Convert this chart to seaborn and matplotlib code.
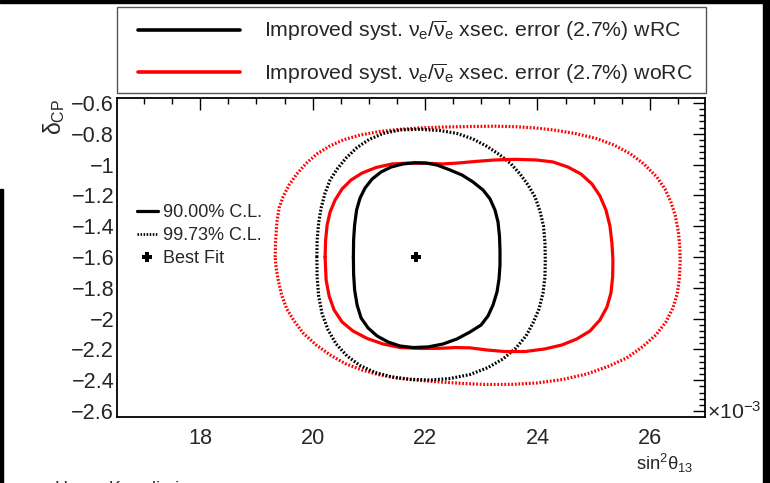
import numpy as np
import pandas as pd
import matplotlib
matplotlib.use("Agg")
import matplotlib.pyplot as plt
import seaborn as sns
from matplotlib.lines import Line2D
from matplotlib.patches import Rectangle
from matplotlib.ticker import MultipleLocator, FuncFormatter

# ---------------- data (sin^2 theta13 in units of 1e-3, delta_CP) ----------------
# 90% C.L., wRC (black solid)
wrc90_x = [20.725, 20.729, 20.747, 20.782, 20.844, 20.933, 21.058, 21.218, 21.396, 21.609,
           21.822, 22.018, 22.213, 22.444, 22.658, 22.853, 23.031, 23.156, 23.244, 23.298,
           23.324, 23.333, 23.333, 23.316, 23.280, 23.209, 23.120, 22.996, 22.800, 22.569,
           22.320, 22.053, 21.787, 21.556, 21.342, 21.147, 20.987, 20.862, 20.791, 20.747,
           20.729]
wrc90_y = [-1.600, -1.490, -1.392, -1.295, -1.217, -1.152, -1.094, -1.048, -1.016, -0.996,
           -0.988, -0.990, -1.003, -1.035, -1.068, -1.113, -1.165, -1.223, -1.295, -1.373,
           -1.464, -1.555, -1.652, -1.743, -1.827, -1.912, -1.983, -2.042, -2.087, -2.132,
           -2.165, -2.184, -2.188, -2.178, -2.152, -2.113, -2.061, -1.996, -1.912, -1.814,
           -1.710]

# 90% C.L., woRC (red solid)
worc90_x = [20.222, 20.231, 20.258, 20.311, 20.400, 20.524, 20.684, 20.880, 21.129, 21.413,
            21.733, 22.053, 22.320, 22.587, 22.889, 23.244, 23.600, 23.973, 24.276, 24.542,
            24.773, 24.969, 25.111, 25.218, 25.289, 25.324, 25.342, 25.337, 25.307, 25.236,
            25.111, 24.933, 24.702, 24.436, 24.133, 23.778, 23.422, 23.102, 22.800, 22.533,
            22.267, 21.911, 21.556, 21.253, 20.969, 20.720, 20.524, 20.382, 20.293, 20.240]
worc90_y = [-1.600, -1.490, -1.392, -1.308, -1.230, -1.158, -1.100, -1.055, -1.019, -0.996,
            -0.990, -0.992, -0.996, -0.990, -0.980, -0.970, -0.966, -0.970, -0.983, -1.016,
            -1.061, -1.126, -1.204, -1.295, -1.399, -1.509, -1.619, -1.730, -1.834, -1.925,
            -2.009, -2.081, -2.132, -2.171, -2.197, -2.214, -2.214, -2.204, -2.190, -2.188,
            -2.193, -2.194, -2.188, -2.165, -2.129, -2.081, -2.022, -1.944, -1.853, -1.749]

# 99.73% C.L., wRC (black dotted)
wrc997_x = [20.075, 20.080, 20.107, 20.151, 20.222, 20.311, 20.436, 20.596, 20.791, 21.004,
            21.253, 21.556, 21.911, 22.267, 22.569, 22.853, 23.102, 23.333, 23.529, 23.689,
            23.831, 23.956, 24.044, 24.107, 24.133, 24.139, 24.133, 24.098, 24.027, 23.920,
            23.796, 23.618, 23.387, 23.120, 22.800, 22.444, 22.089, 21.733, 21.413, 21.111,
            20.844, 20.613, 20.418, 20.276, 20.169, 20.107, 20.080]
wrc997_y = [-1.600, -1.490, -1.379, -1.282, -1.184, -1.100, -1.029, -0.957, -0.889, -0.837,
            -0.798, -0.775, -0.771, -0.779, -0.798, -0.834, -0.882, -0.938, -0.996, -1.061,
            -1.132, -1.210, -1.301, -1.399, -1.509, -1.619, -1.730, -1.834, -1.938, -2.029,
            -2.113, -2.191, -2.262, -2.318, -2.363, -2.389, -2.399, -2.394, -2.379, -2.350,
            -2.305, -2.243, -2.165, -2.074, -1.970, -1.853, -1.730]

# 99.73% C.L., woRC (red dotted)
worc997_x = [19.333, 19.342, 19.364, 19.404, 19.476, 19.582, 19.719, 19.884, 20.075, 20.293,
             20.542, 20.844, 21.200, 21.556, 21.911, 22.356, 22.800, 23.244, 23.600, 23.956,
             24.276, 24.667, 25.052, 25.360, 25.644, 25.893, 26.119, 26.267, 26.373, 26.453,
             26.507, 26.533, 26.539, 26.524, 26.489, 26.409, 26.284, 26.107, 25.876, 25.586,
             25.253, 24.875, 24.453, 23.991, 23.547, 23.102, 22.658, 22.213, 21.822, 21.502,
             21.164, 20.880, 20.578, 20.311, 20.062, 19.831, 19.671, 19.541, 19.449, 19.387,
             19.351]
worc997_y = [-1.600, -1.490, -1.373, -1.282, -1.208, -1.132, -1.061, -0.993, -0.931, -0.882,
             -0.840, -0.808, -0.785, -0.771, -0.762, -0.756, -0.753, -0.751, -0.754, -0.762,
             -0.775, -0.798, -0.831, -0.873, -0.928, -0.996, -1.079, -1.158, -1.243, -1.334,
             -1.438, -1.542, -1.632, -1.736, -1.834, -1.931, -2.022, -2.106, -2.181, -2.256,
             -2.311, -2.360, -2.395, -2.418, -2.427, -2.428, -2.421, -2.410, -2.399, -2.386,
             -2.363, -2.334, -2.292, -2.236, -2.171, -2.094, -2.016, -1.938, -1.847, -1.749,
             -1.671]

best_fit_x = [21.84]
best_fit_y = [-1.60]

x_ticks = [18, 20, 22, 24, 26]
y_ticks = [-2.6, -2.4, -2.2, -2.0, -1.8, -1.6, -1.4, -1.2, -1.0, -0.8, -0.6]

label_wrc = r"Improved syst. $\nu_e/\overline{\nu}_e$ xsec. error (2.7%) wRC"
label_worc = r"Improved syst. $\nu_e/\overline{\nu}_e$ xsec. error (2.7%) woRC"
cl_labels = ["90.00% C.L.", "99.73% C.L.", "Best Fit"]

# ---------------- style ----------------
sns.set_theme(style="white")
plt.rcParams["font.family"] = ["Liberation Sans", "DejaVu Sans"]
plt.rcParams["mathtext.fontset"] = "custom"
plt.rcParams["mathtext.rm"] = "Liberation Sans"
plt.rcParams["mathtext.it"] = "Liberation Sans"
plt.rcParams["mathtext.bf"] = "Liberation Sans:bold"
plt.rcParams["axes.unicode_minus"] = True

W, H = 770, 483
fig = plt.figure(figsize=(W / 100, H / 100), dpi=100)
fig.patch.set_facecolor("white")

ax_l, ax_r, ax_t, ax_b = 117, 705, 98.5, 417
ax = fig.add_axes([ax_l / W, 1 - ax_b / H, (ax_r - ax_l) / W, (ax_b - ax_t) / H])
ax.set_facecolor("white")


def closed(xs, ys):
    return pd.DataFrame({"x": list(xs) + [xs[0]], "y": list(ys) + [ys[0]]})


dot = (0, (0.55, 0.55))
LW = 2.3
kw = dict(x="x", y="y", sort=False, estimator=None, ax=ax)
sns.lineplot(data=closed(worc997_x, worc997_y), color="#ff0000", lw=LW, linestyle=dot, **kw)
sns.lineplot(data=closed(wrc997_x, wrc997_y), color="black", lw=LW, linestyle=dot, **kw)
sns.lineplot(data=closed(worc90_x, worc90_y), color="#ff0000", lw=LW, **kw)
sns.lineplot(data=closed(wrc90_x, wrc90_y), color="black", lw=LW, **kw)
sns.scatterplot(x=best_fit_x, y=best_fit_y, marker="P", s=50, color="black",
                edgecolor="none", ax=ax, zorder=5)

ax.set_xlim(16.52, 26.98)
ax.set_ylim(-2.639, -0.571)
ax.set_xticks(x_ticks)
ax.set_yticks(y_ticks)
ax.xaxis.set_minor_locator(MultipleLocator(0.5))
ax.yaxis.set_minor_locator(MultipleLocator(0.04))
fmt = FuncFormatter(lambda v, p: ("%g" % round(v, 2)).replace("-", "\u2212"))
ax.xaxis.set_major_formatter(fmt)
ax.yaxis.set_major_formatter(fmt)
ax.tick_params(which="both", direction="in", top=True, right=True, width=1.0, color="black")
ax.tick_params(which="major", length=8.6, labelsize=15.6, pad=2)
ax.tick_params(which="minor", length=4.3)
ax.tick_params(axis="x", which="major", pad=8)
for s in ax.spines.values():
    s.set_linewidth(1.3)
    s.set_color("black")
ax.set_xlabel("")
ax.set_ylabel("")

# axis titles
fig.text(54.5 / W, 1 - 99 / H, r"$\delta_{CP}$", rotation=90, ha="center", va="top", fontsize=16.5)
fig.text(693 / W, 1 - 475 / H, r"sin$^{2}\theta_{13}$", ha="right", va="bottom", fontsize=13.2)
fig.text(707 / W, 1 - 419 / H, r"$\times$10$^{-3}$", ha="left", va="baseline", fontsize=15.3)

# top legend
h_wrc = Line2D([], [], color="black", lw=2.6)
h_worc = Line2D([], [], color="#ff0000", lw=2.6)
fig.patches.append(Rectangle((117 / W, 1 - 92.7 / H), (706 - 117) / W, (92.7 - 7.3) / H,
                             transform=fig.transFigure, fill=False, edgecolor="#555555", lw=1.0))
fig.legend([h_wrc, h_worc], [label_wrc, label_worc], loc="upper left",
           bbox_to_anchor=(138 / W, 1 - 19 / H), frameon=False, fontsize=15.3,
           handlelength=4.8, handletextpad=1.13, borderpad=0, borderaxespad=0,
           labelspacing=0.86)

# C.L. legend
cl_handles = [Line2D([], [], color="black", lw=2.3),
              Line2D([], [], color="black", lw=2.0, linestyle=(0, (0.55, 0.55))),
              Line2D([], [], color="black", lw=0, marker="P", markersize=7, markeredgewidth=0)]
ax.legend(cl_handles, cl_labels, loc="upper left",
          bbox_to_anchor=((137 - ax_l) / (ax_r - ax_l), 1 - (204.5 - ax_t) / (ax_b - ax_t)),
          frameon=False, fontsize=13, handlelength=1.16, handletextpad=0.26,
          borderpad=0, borderaxespad=0, labelspacing=0.33)

# cut-off bottom text (only its top edge is visible in the reference)
fig.text(55 / W, 1 - 481.5 / H, "Hyper-K preliminary", ha="left", va="top", fontsize=13)

# screenshot border artefacts
fig.patches.append(Rectangle((0, 1 - 3 / H), 1, 3 / H, transform=fig.transFigure,
                             color="black", zorder=10))
fig.patches.append(Rectangle((763 / W, 0), 7 / W, 1, transform=fig.transFigure,
                             color="black", zorder=10))
fig.patches.append(Rectangle((0, 0), 3 / W, 1 - 189 / H, transform=fig.transFigure,
                             color="black", zorder=10))

fig.savefig("out.png", dpi=100, facecolor="white")
